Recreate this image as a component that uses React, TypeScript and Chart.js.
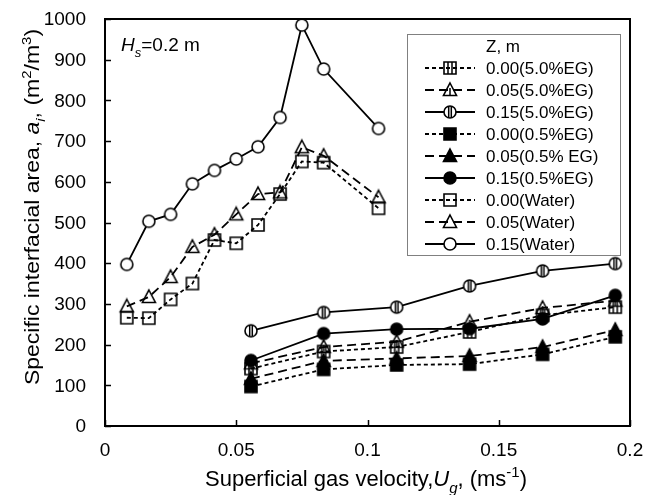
import { useEffect, useRef } from 'react';
import { Chart, registerables } from 'chart.js';

Chart.register(...registerables);

// ---------- data ----------
const xWater = [0.0083, 0.0167, 0.025, 0.0333, 0.0417, 0.05, 0.0583, 0.0667, 0.075, 0.0833, 0.1042];
const water000 = [266, 265, 311, 350, 457, 449, 494, 570, 650, 647, 535];
const water005 = [294, 317, 366, 440, 470, 520, 570, 574, 685, 664, 562];
const water015 = [397, 503, 520, 595, 628, 656, 686, 758, 985, 877, 731];

const xEG = [0.0556, 0.0833, 0.1111, 0.1389, 0.1667, 0.1944];
const eg50_000 = [141, 183, 194, 231, 272, 292];
const eg50_005 = [154, 194, 207, 256, 290, 308];
const eg50_015 = [234, 279, 292, 344, 381, 399];
const eg05_000 = [97, 139, 150, 152, 176, 219];
const eg05_005 = [116, 160, 166, 172, 194, 236];
const eg05_015 = [161, 227, 238, 239, 263, 321];

const xTickLabels = ['0', '0.05', '0.1', '0.15', '0.2'];
const yTickLabels = ['0', '100', '200', '300', '400', '500', '600', '700', '800', '900', '1000'];

const seriesLabels = [
  '0.00(5.0%EG)',
  '0.05(5.0%EG)',
  '0.15(5.0%EG)',
  '0.00(0.5%EG)',
  '0.05(0.5% EG)',
  '0.15(0.5%EG)',
  '0.00(Water)',
  '0.05(Water)',
  '0.15(Water)',
];
const legendTitle = 'Z, m';

const FONT = '"Liberation Sans", Arial, Helvetica, sans-serif';
const SHORT_DASH = [4, 3];
const LONG_DASH = [9, 5];

type Shape = 'rect' | 'triangle' | 'circle';

function makeMarker(shape: Shape, fill: string | null, bars: number): HTMLCanvasElement {
  const s = 18;
  const c = document.createElement('canvas');
  c.width = s;
  c.height = s;
  const ctx = c.getContext('2d')!;
  const cx = 9, cy = 9, r = 6;
  ctx.lineWidth = 1.6;
  ctx.strokeStyle = '#000';
  ctx.beginPath();
  if (shape === 'rect') {
    ctx.rect(cx - r, cy - r, 2 * r, 2 * r);
  } else if (shape === 'circle') {
    ctx.arc(cx, cy, r, 0, Math.PI * 2);
  } else {
    ctx.moveTo(cx, cy - r - 1);
    ctx.lineTo(cx + r + 0.5, cy + r - 0.5);
    ctx.lineTo(cx - r - 0.5, cy + r - 0.5);
    ctx.closePath();
  }
  if (fill) {
    ctx.fillStyle = fill;
    ctx.fill();
  }
  ctx.stroke();
  if (bars > 0) {
    ctx.lineWidth = 1.5;
    ctx.beginPath();
    if (shape === 'rect') {
      ctx.moveTo(cx - 2, cy - r); ctx.lineTo(cx - 2, cy + r);
      ctx.moveTo(cx + 2, cy - r); ctx.lineTo(cx + 2, cy + r);
    } else if (shape === 'circle') {
      ctx.moveTo(cx - 1.3, cy - r); ctx.lineTo(cx - 1.3, cy + r);
      ctx.moveTo(cx + 1.3, cy - r); ctx.lineTo(cx + 1.3, cy + r);
    } else {
      ctx.moveTo(cx, cy - 2); ctx.lineTo(cx, cy + r);
    }
    ctx.stroke();
  }
  return c;
}

type Piece = { t: string; it?: boolean; sub?: boolean; sup?: boolean };

function pieceFont(p: Piece, size: number) {
  const sz = p.sub || p.sup ? Math.round(size * 0.66) : size;
  return `${p.it ? 'italic ' : ''}${sz}px ${FONT}`;
}

function drawRich(ctx: CanvasRenderingContext2D, pieces: Piece[], x: number, y: number, size: number, align: 'left' | 'center') {
  ctx.save();
  ctx.textBaseline = 'alphabetic';
  ctx.textAlign = 'left';
  let total = 0;
  const widths = pieces.map((p) => {
    ctx.font = pieceFont(p, size);
    const w = ctx.measureText(p.t).width;
    total += w;
    return w;
  });
  let cx = align === 'center' ? x - total / 2 : x;
  pieces.forEach((p, i) => {
    ctx.font = pieceFont(p, size);
    const dy = p.sub ? size * 0.3 : p.sup ? -size * 0.42 : 0;
    ctx.fillText(p.t, cx, y + dy);
    cx += widths[i];
  });
  ctx.restore();
}

const xTitle: Piece[] = [
  { t: 'Superficial gas velocity,' },
  { t: 'U', it: true },
  { t: 'g', it: true, sub: true },
  { t: ', (ms' },
  { t: '-1', sup: true },
  { t: ')' },
];
const yTitle: Piece[] = [
  { t: 'Specific interfacial area, ' },
  { t: 'a', it: true },
  { t: 'i', it: true, sub: true },
  { t: ', (m' },
  { t: '2', sup: true },
  { t: '/m' },
  { t: '3', sup: true },
  { t: ')' },
];
const hsNote: Piece[] = [
  { t: 'H', it: true },
  { t: 's', it: true, sub: true },
  { t: '=0.2 m' },
];

export default function App() {
  const ref = useRef<HTMLCanvasElement | null>(null);

  useEffect(() => {
    const canvas = ref.current!;
    const markers = [
      makeMarker('rect', null, 2),
      makeMarker('triangle', null, 1),
      makeMarker('circle', '#fff', 2),
      makeMarker('rect', '#000', 0),
      makeMarker('triangle', '#000', 0),
      makeMarker('circle', '#000', 0),
      makeMarker('rect', null, 0),
      makeMarker('triangle', null, 0),
      makeMarker('circle', '#fff', 0),
    ];
    const dashes = [SHORT_DASH, LONG_DASH, [], SHORT_DASH, LONG_DASH, [], SHORT_DASH, LONG_DASH, []];
    const xs = [xEG, xEG, xEG, xEG, xEG, xEG, xWater, xWater, xWater];
    const ys = [eg50_000, eg50_005, eg50_015, eg05_000, eg05_005, eg05_015, water000, water005, water015];

    const datasets = seriesLabels.map((label, i) => ({
      label,
      data: xs[i].map((x, j) => ({ x, y: ys[i][j] })),
      borderColor: '#000',
      backgroundColor: '#000',
      borderWidth: 1.8,
      borderDash: dashes[i],
      pointStyle: markers[i],
      pointRadius: 6,
      pointHoverRadius: 6,
      showLine: true,
      tension: 0,
    }));

    const framePlugin = {
      id: 'framePlugin',
      afterDraw(chart: any) {
        const ctx: CanvasRenderingContext2D = chart.ctx;
        const a = chart.chartArea;
        const xs = chart.scales.x;
        const ys = chart.scales.y;
        ctx.save();
        // frame
        ctx.strokeStyle = '#000';
        ctx.lineWidth = 2;
        ctx.setLineDash([]);
        ctx.strokeRect(a.left, a.top, a.right - a.left, a.bottom - a.top);
        // inward ticks
        ctx.lineWidth = 1.5;
        ctx.beginPath();
        ys.ticks.forEach((t: any) => {
          const py = Math.round(ys.getPixelForValue(t.value)) + 0.5;
          ctx.moveTo(a.left, py);
          ctx.lineTo(a.left + 6, py);
        });
        xs.ticks.forEach((t: any) => {
          const px = Math.round(xs.getPixelForValue(t.value)) + 0.5;
          ctx.moveTo(px, a.bottom);
          ctx.lineTo(px, a.bottom - 6);
        });
        ctx.stroke();

        // tick labels
        ctx.fillStyle = '#000';
        ctx.font = `19px ${FONT}`;
        ctx.textBaseline = 'middle';
        ctx.textAlign = 'right';
        ys.ticks.forEach((t: any, i: number) => {
          ctx.fillText(yTickLabels[i], 86, ys.getPixelForValue(t.value) + 1);
        });
        ctx.textAlign = 'center';
        xs.ticks.forEach((t: any, i: number) => {
          ctx.fillText(xTickLabels[i], xs.getPixelForValue(t.value), 451);
        });

        // titles
        drawRich(ctx, xTitle, 366, 486, 22, 'center');
        ctx.save();
        ctx.translate(39, 207);
        ctx.rotate(-Math.PI / 2);
        ctx.scale(1.15, 1);
        drawRich(ctx, yTitle, 0, 0, 20, 'center');
        ctx.restore();
        drawRich(ctx, hsNote, 121, 51, 19, 'left');

        // legend
        const lx = 407, ly = 34, lw = 213, lh = 221;
        ctx.fillStyle = '#fff';
        ctx.fillRect(lx, ly, lw, lh);
        ctx.strokeStyle = '#808080';
        ctx.lineWidth = 1;
        ctx.strokeRect(lx + 0.5, ly + 0.5, lw, lh);
        ctx.fillStyle = '#000';
        ctx.font = `17px ${FONT}`;
        ctx.textBaseline = 'middle';
        ctx.textAlign = 'left';
        ctx.fillText(legendTitle, 486, 47);
        seriesLabels.forEach((lab, i) => {
          const yy = 68 + i * 22;
          ctx.strokeStyle = '#000';
          ctx.lineWidth = 1.8;
          ctx.setLineDash(dashes[i]);
          ctx.beginPath();
          ctx.moveTo(425, yy);
          ctx.lineTo(475, yy);
          ctx.stroke();
          ctx.setLineDash([]);
          const m = markers[i];
          ctx.drawImage(m, 450 - m.width / 2, yy - m.height / 2);
          ctx.fillStyle = '#000';
          ctx.fillText(lab, 486, yy + 1);
        });
        ctx.restore();
      },
    };

    const chart = new Chart(canvas, {
      type: 'scatter',
      data: { datasets } as any,
      options: {
        responsive: false,
        animation: false,
        layout: { padding: { top: 19, right: 30, left: 0, bottom: 0 } },
        plugins: {
          legend: { display: false },
          tooltip: { enabled: false },
          title: { display: false },
        },
        scales: {
          x: {
            type: 'linear',
            min: 0,
            max: 0.2,
            grid: { display: false },
            border: { display: false },
            ticks: { stepSize: 0.05, display: false },
            afterFit: (s: any) => { s.height = 69; },
          },
          y: {
            type: 'linear',
            min: 0,
            max: 1000,
            grid: { display: false },
            border: { display: false },
            ticks: { stepSize: 100, display: false },
            afterFit: (s: any) => { s.width = 105; },
          },
        },
      } as any,
      plugins: [framePlugin],
    });
    return () => chart.destroy();
  }, []);

  return (
    <div style={{ position: 'fixed', left: 0, top: 0, width: 660, height: 495, background: '#fff' }}>
      <canvas ref={ref} width={660} height={495} style={{ display: 'block' }} />
    </div>
  );
}
